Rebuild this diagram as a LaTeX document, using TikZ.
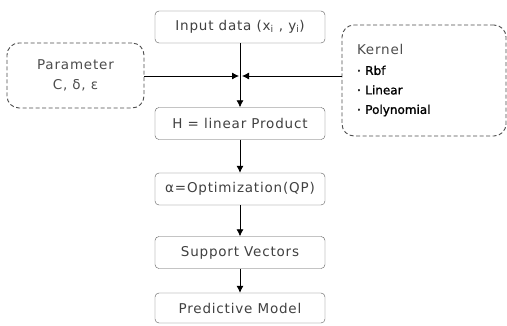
\documentclass[tikz,border=0pt]{standalone}
\usepackage{fontspec}
\setmainfont{DejaVu Sans}[LetterSpace=6]
\newfontfamily\bulletfont{DejaVu Sans}[FakeBold=1.2]
\usetikzlibrary{arrows.meta}
\tikzset{
  flow/.style={draw=black!65, rounded corners=4pt, minimum width=170pt, minimum height=32pt, inner sep=0pt, text=black!75, font=\fontsize{13.5}{15}\selectfont},
  optbox/.style={draw=black!70, dash pattern=on 4pt off 2.5pt, rounded corners=12pt, line width=0.9pt, inner sep=0pt, text=black!70},
  arr/.style={-{Latex[length=7pt,width=7pt]}, line width=0.8pt}
}
\begin{document}
\begin{tikzpicture}[x=1pt,y=-1pt]
\useasboundingbox (0,0) rectangle (507,325);
\node[flow] (inp) at (240,27) {Input data (x\textsubscript{i} , y\textsubscript{i})};
\node[flow] (hp) at (240,123.5) {H = linear Product};
\node[flow] (opt) at (240,189) {α=Optimization(QP)};
\node[flow] (sv) at (240,252.5) {Support Vectors};
\node[flow, minimum height=30pt] (pm) at (240,308) {Predictive Model};

\node[optbox, minimum width=137pt, minimum height=65pt, align=center, font=\fontsize{13.5}{20}\selectfont] (par) at (75.5,75.5) {Parameter\\C, δ, ε};
\node[optbox, minimum width=164pt, minimum height=111pt, text width=134pt, align=left, font=\fontsize{13.5}{19.5}\selectfont] (kern) at (424,80.5)
  {Kernel\\[0.5pt] {\color{black}\bulletfont\fontsize{12}{19.5}\selectfont · Rbf\\ · Linear\\ · Polynomial}};

\coordinate (jn) at (240,76);
\draw[arr] (inp) -- (hp);
\draw[arr] (hp) -- (opt);
\draw[arr] (opt) -- (sv);
\draw[arr] (sv) -- (pm);
\draw[arr] (par.east |- jn) -- ([xshift=-1pt]jn);
\draw[arr] (kern.west |- jn) -- ([xshift=2pt]jn);
\end{tikzpicture}
\end{document}
